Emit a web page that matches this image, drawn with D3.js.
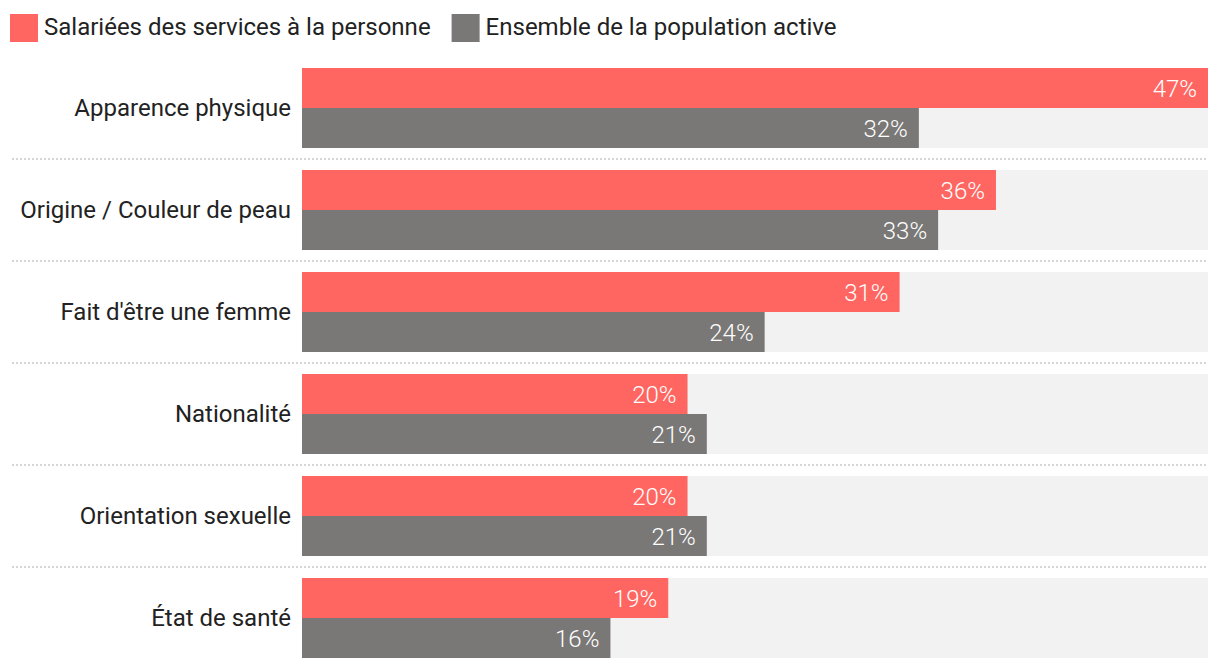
<!DOCTYPE html>
<html><head><meta charset="utf-8">
<script src="https://cdn.jsdelivr.net/npm/d3@7"></script>
<style>body{margin:0;background:#fff;font-family:Roboto,sans-serif}</style>
</head><body><svg id="c" width="1220" height="670"></svg>
<script>
const categories = ["Apparence physique","Origine / Couleur de peau","Fait d'être une femme","Nationalité","Orientation sexuelle","État de santé"];
const seriesNames = ["Salariées des services à la personne","Ensemble de la population active"];
const salariees = [47,36,31,20,20,19];
const ensemble = [32,33,24,21,21,16];
const colors = ["#ff6661","#7a7876"];

const svg = d3.select("#c");
const x = d3.scaleLinear().domain([0,47]).range([302,1208]);
const y = d3.scaleBand().domain(categories).range([68,680]).paddingInner(0).paddingOuter(0);
const barH = 40;

// legend
let lx = 10;
seriesNames.forEach((n,i)=>{
  svg.append("rect").attr("x",lx).attr("y",14).attr("width",28).attr("height",28).attr("fill",colors[i]);
  const t = svg.append("text").attr("x",lx+34).attr("y",35).attr("font-size",24).attr("fill","#222").text(n);
  lx += 34 + t.node().getComputedTextLength() + 21;
});

const g = svg.append("g");
categories.forEach((c,i)=>{
  const y0 = y(c);
  g.append("rect").attr("x",x(0)).attr("y",y0).attr("width",x(47)-x(0)).attr("height",barH*2).attr("fill","#f2f2f2");
  [salariees[i],ensemble[i]].forEach((v,j)=>{
    g.append("rect").attr("x",x(0)).attr("y",y0+j*barH).attr("width",x(v)-x(0)).attr("height",barH).attr("fill",colors[j]);
    g.append("text").attr("x",x(v)-11).attr("y",y0+j*barH+barH/2).attr("dy","0.36em")
      .attr("text-anchor","end").attr("font-size",24).attr("font-weight",300).attr("fill","#fff").text(v+"%");
  });
  g.append("text").attr("x",291).attr("y",y0+barH).attr("dy","0.35em").attr("text-anchor","end")
    .attr("font-size",24).attr("fill","#222").text(c);
  if(i<categories.length-1){
    g.append("line").attr("x1",12).attr("x2",1208).attr("y1",y0+barH*2+11).attr("y2",y0+barH*2+11)
      .attr("stroke","#c8c8c8").attr("stroke-width",1.5).attr("stroke-dasharray","2,2");
  }
});
</script></body></html>
